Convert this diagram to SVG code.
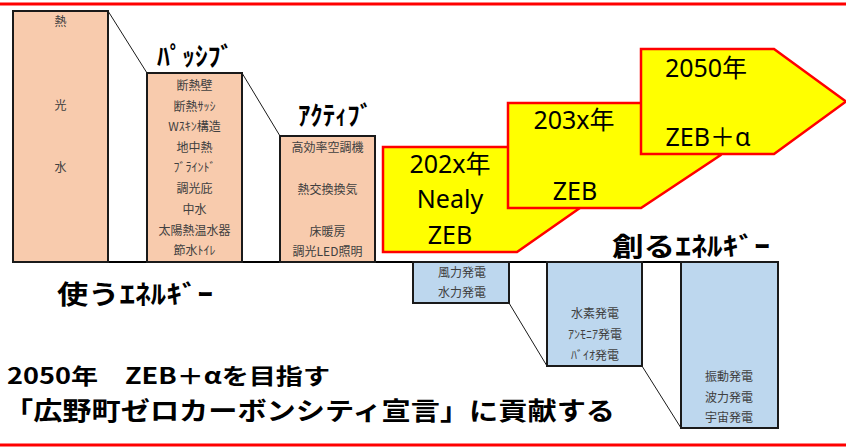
<svg xmlns="http://www.w3.org/2000/svg" width="846" height="447" viewBox="0 0 846 447">
<style>
.bg{fill:#ffffff}
.use{fill:#F8CBAD;stroke:#1a1a1a;stroke-width:2}
.make{fill:#BDD7EE;stroke:#1a1a1a;stroke-width:2}
.step{fill:#FFFF00;stroke:#FF0000;stroke-width:2.5;stroke-linejoin:miter}
.conn{stroke:#1a1a1a;stroke-width:1;fill:none}
.base{stroke:#000;stroke-width:2}
.red{stroke:#FF0000;stroke-width:3}
.item{font-family:"Noto Sans CJK JP","Noto Sans",sans-serif;font-size:12px;fill:#404040;text-anchor:middle}
.head{font-family:"Noto Sans CJK JP","Noto Sans",sans-serif;font-size:26px;font-weight:bold;fill:#000}
.yr{font-family:"Noto Sans","Noto Sans CJK JP",sans-serif;font-size:25px;fill:#000;text-anchor:middle}
.msg{font-family:"Noto Sans CJK JP","Noto Sans",sans-serif;font-weight:bold;fill:#000}
</style>
<rect class="bg" x="0" y="0" width="846" height="447"/>
<line class="red" x1="0" y1="4" x2="846" y2="4"/>
<line class="red" x1="0" y1="445" x2="846" y2="445"/>

<g id="connectors">
<line class="base" x1="13" y1="262" x2="778" y2="262"/>
<line class="conn" x1="108" y1="11" x2="147" y2="73"/>
<line class="conn" x1="242" y1="73" x2="280" y2="136"/>
<line class="conn" x1="509" y1="303" x2="547" y2="366"/>
<line class="conn" x1="642" y1="366" x2="681" y2="428"/>
</g>

<g id="node-base">
<rect class="use" x="13" y="11" width="95" height="251"/>
<text class="item" x="60.5" y="26">熱</text>
<text class="item" x="60.5" y="110">光</text>
<text class="item" x="60.5" y="172">水</text>
</g>

<g id="node-passive">
<rect class="use" x="147" y="73" width="95" height="189"/>
<text class="item" x="194.5" y="89.5">断熱壁</text>
<text class="item" x="194.5" y="110.5">断熱ｻｯｼ</text>
<text class="item" x="194.5" y="130.5">Wｽｷﾝ構造</text>
<text class="item" x="194.5" y="151.5">地中熱</text>
<text class="item" x="194.5" y="171.5">ﾌﾞﾗｲﾝﾄﾞ</text>
<text class="item" x="194.5" y="192.5">調光庇</text>
<text class="item" x="194.5" y="213.5">中水</text>
<text class="item" x="194.5" y="234.5">太陽熱温水器</text>
<text class="item" x="194.5" y="254.5">節水ﾄｲﾚ</text>
</g>
<text class="head" x="157" y="66" textLength="76" lengthAdjust="spacingAndGlyphs">ﾊﾟｯｼﾌﾞ</text>

<g id="node-active">
<rect class="use" x="280" y="136" width="95" height="126"/>
<text class="item" x="327.5" y="151.5">高効率空調機</text>
<text class="item" x="327.5" y="193.5">熱交換換気</text>
<text class="item" x="327.5" y="235.5">床暖房</text>
<text class="item" x="327.5" y="255.5">調光LED照明</text>
</g>
<text class="head" x="298" y="125" textLength="74" lengthAdjust="spacingAndGlyphs">ｱｸﾃｨﾌﾞ</text>

<g id="node-202x">
<polygon class="step" points="383,147 517,147 592,199.5 517,252 383,252"/>
<text class="yr" x="450" y="173">202x年</text>
<text class="yr" x="450" y="208">Nealy</text>
<text class="yr" x="450" y="244">ZEB</text>
</g>
<g id="node-203x">
<polygon class="step" points="508,103 641,103 720,155.5 641,208 508,208"/>
<text class="yr" x="574" y="129">203x年</text>
<text class="yr" x="575" y="200">ZEB</text>
</g>
<g id="node-2050">
<polygon class="step" points="641,49 774,49 846,101.5 774,154 641,154"/>
<text class="yr" x="706" y="77">2050年</text>
<text class="yr" x="708" y="146">ZEB＋α</text>
</g>

<g id="node-make1">
<rect class="make" x="413" y="262" width="96" height="41"/>
<text class="item" x="462" y="277">風力発電</text>
<text class="item" x="462" y="297">水力発電</text>
</g>
<g id="node-make2">
<rect class="make" x="547" y="262" width="95" height="104"/>
<text class="item" x="595" y="318">水素発電</text>
<text class="item" x="595" y="339">ｱﾝﾓﾆｱ発電</text>
<text class="item" x="595" y="360">ﾊﾞｲｵ発電</text>
</g>
<g id="node-make3">
<rect class="make" x="681" y="262" width="97" height="166"/>
<text class="item" x="729" y="381">振動発電</text>
<text class="item" x="729" y="402">波力発電</text>
<text class="item" x="729" y="422">宇宙発電</text>
</g>

<text class="head" x="57" y="304" textLength="156" lengthAdjust="spacingAndGlyphs">使うｴﾈﾙｷﾞｰ</text>
<text class="head" x="612" y="256" textLength="158" lengthAdjust="spacingAndGlyphs">創るｴﾈﾙｷﾞｰ</text>

<text class="msg" x="7" y="384" font-size="22" textLength="323" lengthAdjust="spacingAndGlyphs">2050年　ZEB＋αを目指す</text>
<text class="msg" x="4" y="420" font-size="25" textLength="611" lengthAdjust="spacingAndGlyphs">「広野町ゼロカーボンシティ宣言」に貢献する</text>
</svg>
